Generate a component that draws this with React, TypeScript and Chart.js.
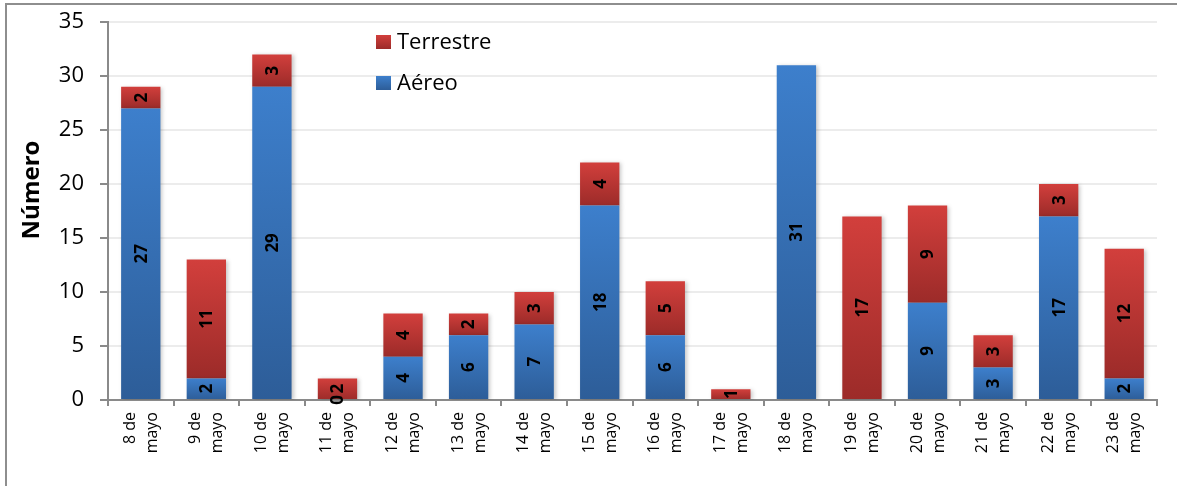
import React, { useEffect, useRef } from "react";
import { Chart, registerables } from "chart.js";

Chart.register(...registerables);

const categories = [
  "8 de mayo", "9 de mayo", "10 de mayo", "11 de mayo", "12 de mayo", "13 de mayo",
  "14 de mayo", "15 de mayo", "16 de mayo", "17 de mayo", "18 de mayo", "19 de mayo",
  "20 de mayo", "21 de mayo", "22 de mayo", "23 de mayo",
];
const aereo: (number | null)[] = [27, 2, 29, 0, 4, 6, 7, 18, 6, null, 31, null, 9, 3, 17, 2];
const terrestre: (number | null)[] = [2, 11, 3, 2, 4, 2, 3, 4, 5, 1, null, 17, 9, 3, 3, 12];
const seriesNames = ["Aéreo", "Terrestre"];
const yMin = 0;
const yMax = 35;
const yStep = 5;
const yTitle = "Número";

const FONT = "'Open Sans', sans-serif";
const BLUE_TOP = "#3d7fcc";
const BLUE_BOTTOM = "#2d5d98";
const RED_TOP = "#d23f3c";
const RED_BOTTOM = "#9c2b29";

function gradientFor(top: string, bottom: string) {
  return (c: any) => {
    const chart = c.chart;
    const { ctx, chartArea, scales } = chart;
    if (!chartArea || c.type !== "data" || !scales.y) return bottom;
    const i = c.dataIndex;
    let base = 0;
    for (let d = 0; d < c.datasetIndex; d++) {
      const v = chart.data.datasets[d].data[i];
      base += typeof v === "number" ? v : 0;
    }
    const val = typeof c.raw === "number" ? c.raw : 0;
    const y1 = scales.y.getPixelForValue(base + val);
    const y0 = scales.y.getPixelForValue(base);
    if (!isFinite(y0) || !isFinite(y1) || Math.abs(y0 - y1) < 0.5) return bottom;
    const g = ctx.createLinearGradient(0, y1, 0, y0);
    g.addColorStop(0, top);
    g.addColorStop(1, bottom);
    return g;
  };
}

const framePlugin = {
  id: "frame",
  beforeDraw(chart: any) {
    const ctx = chart.ctx;
    ctx.save();
    ctx.strokeStyle = "#8e8e8e";
    ctx.lineWidth = 2;
    ctx.beginPath();
    ctx.moveTo(6, chart.height);
    ctx.lineTo(6, 4);
    ctx.lineTo(chart.width, 4);
    ctx.stroke();
    ctx.restore();
  },
};

const shadowPlugin = {
  id: "barShadow",
  beforeDatasetDraw(chart: any) {
    const ctx = chart.ctx;
    ctx.save();
    ctx.shadowColor = "rgba(0,0,0,0.22)";
    ctx.shadowBlur = 4;
    ctx.shadowOffsetX = 2;
    ctx.shadowOffsetY = 1;
  },
  afterDatasetDraw(chart: any) {
    chart.ctx.restore();
  },
};

const labelPlugin = {
  id: "segLabels",
  afterDatasetsDraw(chart: any) {
    const ctx = chart.ctx;
    ctx.save();
    ctx.font = `bold 17px ${FONT}`;
    ctx.fillStyle = "#000";
    ctx.textAlign = "center";
    ctx.textBaseline = "middle";
    chart.data.datasets.forEach((ds: any, di: number) => {
      const meta = chart.getDatasetMeta(di);
      meta.data.forEach((el: any, i: number) => {
        const v = ds.data[i];
        if (v === null || v === undefined) return;
        const cx = el.x;
        const cy = (el.y + el.base) / 2;
        ctx.save();
        ctx.translate(cx, cy);
        ctx.rotate(-Math.PI / 2);
        ctx.fillText(String(v), 0, 1);
        ctx.restore();
      });
    });
    ctx.restore();
  },
};

const textPlugin = {
  id: "extraText",
  afterDraw(chart: any) {
    const ctx = chart.ctx;
    // X category labels (two lines, rotated)
    const xs = chart.scales.x;
    const axisY = chart.chartArea.bottom;
    ctx.save();
    ctx.font = `16px ${FONT}`;
    ctx.fillStyle = "#000";
    ctx.textAlign = "right";
    ctx.textBaseline = "alphabetic";
    categories.forEach((cat, i) => {
      const parts = cat.split(" ");
      const lines = [parts[0] + " " + parts[1], parts.slice(2).join(" ")];
      const cx = xs.getPixelForValue(i);
      lines.forEach((ln, li) => {
        ctx.save();
        ctx.translate(cx - 6 + li * 22, axisY + 12);
        ctx.rotate(-Math.PI / 2);
        ctx.fillText(ln, 0, 0);
        ctx.restore();
      });
    });
    ctx.restore();

    // Y axis title
    ctx.save();
    ctx.font = `bold 24px ${FONT}`;
    ctx.fillStyle = "#000";
    ctx.textAlign = "center";
    ctx.textBaseline = "middle";
    ctx.translate(32, 190);
    ctx.rotate(-Math.PI / 2);
    ctx.fillText(yTitle, 0, 0);
    ctx.restore();

    // Legend (Terrestre on top, Aéreo below)
    const items = [
      { label: seriesNames[1], top: RED_TOP, bottom: RED_BOTTOM, y: 42 },
      { label: seriesNames[0], top: BLUE_TOP, bottom: BLUE_BOTTOM, y: 83 },
    ];
    ctx.save();
    ctx.font = `22px ${FONT}`;
    ctx.textBaseline = "middle";
    ctx.textAlign = "left";
    items.forEach((it) => {
      const g = ctx.createLinearGradient(0, it.y - 7, 0, it.y + 7);
      g.addColorStop(0, it.top);
      g.addColorStop(1, it.bottom);
      ctx.fillStyle = g;
      ctx.fillRect(376, it.y - 7, 15, 14);
      ctx.fillStyle = "#000";
      ctx.fillText(it.label, 397, it.y + 1);
    });
    ctx.restore();
  },
};

export default function App() {
  const ref = useRef<HTMLCanvasElement | null>(null);

  useEffect(() => {
    document.body.style.margin = "0";
    const canvas = ref.current;
    if (!canvas) return;
    const chart = new Chart(canvas, {
      type: "bar",
      data: {
        labels: categories,
        datasets: [
          {
            label: seriesNames[0],
            data: aereo,
            backgroundColor: gradientFor(BLUE_TOP, BLUE_BOTTOM),
            borderWidth: 0,
            categoryPercentage: 0.6,
            barPercentage: 1,
          },
          {
            label: seriesNames[1],
            data: terrestre,
            backgroundColor: gradientFor(RED_TOP, RED_BOTTOM),
            borderWidth: 0,
            categoryPercentage: 0.6,
            barPercentage: 1,
          },
        ],
      },
      options: {
        responsive: false,
        animation: false,
        devicePixelRatio: 1,
        layout: { padding: { left: 0, top: 22, right: 20, bottom: 0 } },
        plugins: {
          legend: { display: false },
          tooltip: { enabled: false },
          title: { display: false },
        },
        scales: {
          x: {
            stacked: true,
            offset: true,
            grid: {
              offset: true,
              drawOnChartArea: false,
              drawTicks: true,
              tickLength: 6,
              color: "#8a8a8a",
              lineWidth: 2,
            },
            border: { display: true, color: "#8a8a8a", width: 2 },
            ticks: { display: false, autoSkip: false },
            afterFit: (s: any) => {
              s.height = 86;
              s.paddingLeft = 0;
              s.paddingRight = 0;
            },
          },
          y: {
            stacked: true,
            min: yMin,
            max: yMax,
            ticks: {
              stepSize: yStep,
              padding: 16,
              color: "#000",
              font: { family: FONT, size: 22 },
            },
            grid: {
              color: "#ececec",
              lineWidth: 2,
              tickLength: 8,
              tickColor: "#8a8a8a",
              tickWidth: 2,
            },
            border: { display: true, color: "#8a8a8a", width: 2 },
            afterFit: (s: any) => {
              s.width = 108;
              s.paddingTop = 0;
              s.paddingBottom = 0;
            },
          },
        },
      },
      plugins: [framePlugin, shadowPlugin, labelPlugin, textPlugin],
    } as any);
    return () => chart.destroy();
  }, []);

  return (
    <div style={{ width: 1177, height: 486 }}>
      <canvas ref={ref} width={1177} height={486} style={{ display: "block" }} />
    </div>
  );
}
